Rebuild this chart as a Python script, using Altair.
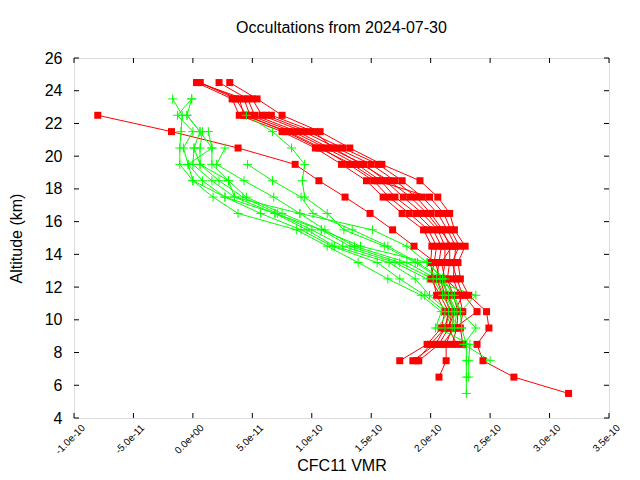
import altair as alt
import pandas as pd

W, H = 535, 360

# altitude levels (km)
RED_ALT = [24.5, 23.5, 22.5, 21.5, 20.5, 19.5, 18.5, 17.5, 16.5, 15.5,
           14.5, 13.5, 12.5, 11.5, 10.5, 9.5, 8.5, 7.5, 6.5, 5.5]
GREEN_ALT = [23.5, 22.5, 21.5, 20.5, 19.5, 18.5, 17.5, 16.5, 15.5, 14.5,
             13.5, 12.5, 11.5, 10.5, 9.5, 8.5, 7.5, 6.5, 5.5]

# CFC11 VMR in units of 1e-10
RED = {
    "r1": [0.03, 0.33, 0.39, 0.75, 1.03, 1.25, 1.46, 1.60, 1.76, 1.94, 2.01, 2.00, 2.02, 2.05, 2.12, 2.09, 1.97, 1.74, None, None],
    "r2": [0.06, 0.39, 0.43, 0.80, 1.08, 1.31, 1.52, 1.65, 1.82, 1.98, 2.05, 2.03, 2.00, 2.08, 2.15, 2.12, 2.04, 1.85, None, None],
    "r3": [0.04, 0.43, 0.48, 0.84, 1.12, 1.38, 1.58, 1.70, 1.88, 2.02, 2.09, 2.07, 2.05, 2.10, 2.18, 2.15, 2.07, 1.90, None, None],
    "r4": [0.22, 0.46, 0.52, 0.88, 1.15, 1.44, 1.62, 1.77, 1.93, 2.06, 2.12, 2.12, 2.10, 2.14, 2.20, 2.18, 2.13, 2.13, 2.07, None],
    "r5": [None, 0.50, 0.58, 0.93, 1.21, 1.50, 1.70, 1.88, 2.00, 2.10, 2.16, 2.16, 2.14, 2.19, 2.23, 2.22, 2.18, None, None, None],
    "r6": [None, None, 0.62, 0.97, 1.26, 1.56, 1.76, 1.93, 2.06, 2.14, 2.21, 2.20, 2.19, 2.24, 2.27, 2.25, 2.27, None, None, None],
    "r7": [0.31, 0.54, 0.75, 1.07, 1.32, 1.59, 1.91, 2.06, 2.16, 2.20, 2.29, 2.23, 2.25, 2.32, 2.47, 2.49, 2.39, 2.44, 2.70, 3.16],
    "r8": [None, None, -0.80, -0.18, 0.38, 0.86, 1.06, 1.28, 1.49, 1.68, 1.86, 2.04, 2.08, 2.12, 2.16, 2.12, 2.00, 1.88, None, None],
    "r9": [None, None, 0.66, 1.02, 1.18, 1.42, 1.65, 1.83, 1.97, 2.08, 2.18, 2.09, 2.12, 2.28, 2.39, 2.20, 2.10, None, None, None],
    "r10": [0.06, 0.36, 0.45, 0.78, 1.06, 1.34, 1.55, 1.99, 2.11, 2.17, 2.24, 2.18, 2.22, 2.27, 2.20, 2.15, 2.22, None, None, None],
}

GREEN = {
    "g1": [-0.17, -0.09, -0.10, -0.11, -0.11, 0.00, 0.17, 0.38, 0.87, 1.13, 1.39, 1.64, 1.92, 2.09, 2.04, None, None, None, None],
    "g2": [-0.01, -0.13, 0.00, -0.08, -0.04, 0.08, 0.27, 0.57, 0.91, 1.17, 1.55, 1.74, 1.95, 2.12, 2.26, 2.30, 2.30, 2.30, 2.30],
    "g3": [None, -0.05, 0.06, 0.01, 0.00, 0.16, 0.35, 0.69, 0.96, 1.19, 1.65, 1.87, 1.99, 2.15, 2.06, 2.33, 2.32, 2.32, None],
    "g4": [None, None, 0.08, 0.06, 0.06, 0.22, 0.42, 0.71, 1.00, 1.26, 1.70, 1.97, 2.38, 2.25, 2.38, 2.28, 2.50, None, None],
    "g5": [None, None, 0.13, 0.16, 0.16, 0.30, 0.45, 0.75, 1.08, 1.32, 1.74, 2.02, 2.10, 2.18, 2.12, None, None, None, None],
    "g6": [None, None, None, 0.27, 0.20, 0.43, 0.68, 0.90, 1.11, 1.36, 1.80, 2.05, 2.12, 2.20, None, None, None, None, None],
    "g7": [None, 0.45, 0.67, 0.83, 0.94, 0.92, 0.94, 1.13, 1.27, 1.61, 1.87, 2.08, 2.15, 2.22, 2.20, None, None, None, None],
    "g8": [None, None, None, None, 0.46, 0.67, 0.91, 1.01, 1.34, 1.64, 1.89, 2.10, 2.20, 2.25, 2.26, None, None, None, None],
    "g9": [-0.01, -0.05, 0.06, 0.16, -0.04, 0.00, 0.27, 0.69, 1.08, 1.41, 1.97, 2.12, 2.18, 2.25, None, None, None, None, None],
    "g10": [None, None, None, 0.01, 0.06, 0.30, 0.35, 0.90, 1.51, 1.80, 1.97, 2.10, 2.15, 2.20, 2.18, None, None, None, None],
}

XTICK_VALUES = [-1.0, -0.5, 0.0, 0.5, 1.0, 1.5, 2.0, 2.5, 3.0, 3.5]
XTICK_LABELS = ["-1.0e-10", "-5.0e-11", "0.0e+00", "5.0e-11", "1.0e-10",
                "1.5e-10", "2.0e-10", "2.5e-10", "3.0e-10", "3.5e-10"]
YTICK_VALUES = [4, 6, 8, 10, 12, 14, 16, 18, 20, 22, 24, 26]

FONT = "Liberation Sans"

rows = []
for group, alts, profiles in (("red", RED_ALT, RED), ("green", GREEN_ALT, GREEN)):
    for name, vals in profiles.items():
        for a, v in zip(alts, vals):
            if v is not None:
                rows.append({"group": group, "profile": name, "alt": a, "vmr": v})
df = pd.DataFrame(rows)
red_df = df[df.group == "red"]
green_df = df[df.group == "green"]

label_expr = " : ".join(
    f"datum.value == {v} ? '{l}'" for v, l in zip(XTICK_VALUES, XTICK_LABELS)
) + " : ''"

xscale = alt.Scale(domain=[-1.0, 3.5], nice=False, zero=False)
yscale = alt.Scale(domain=[4, 26], nice=False, zero=False)

x_enc = alt.X(
    "vmr:Q", scale=xscale,
    axis=alt.Axis(values=XTICK_VALUES, labelExpr=label_expr, ticks=False,
                  domain=False, grid=False, labelAngle=-45, labelAlign="right",
                  labelBaseline="middle", labelFontSize=10, labelPadding=8,
                  labelOffset=9,
                  labelFont=FONT, labelColor="black",
                  title="CFC11 VMR", titleFontSize=16, titleFont=FONT,
                  titleFontWeight="normal", titleColor="black",
                  titleX=W / 2, titleY=47, titleAlign="center",
                  titleBaseline="middle"),
)
y_enc = alt.Y(
    "alt:Q", scale=yscale,
    axis=alt.Axis(values=YTICK_VALUES, ticks=False, domain=False, grid=False,
                  labelFontSize=16, labelPadding=12, labelFont=FONT,
                  labelColor="black",
                  title="Altitude (km)", titleFontSize=16, titleFont=FONT,
                  titleFontWeight="normal", titleColor="black",
                  titleX=-58, titleY=H / 2, titleAngle=-90,
                  titleAlign="center", titleBaseline="middle"),
)

red_lines = alt.Chart(red_df).mark_line(color="#ff0000", strokeWidth=1).encode(
    x=x_enc, y=y_enc, detail="profile:N", order=alt.Order("alt:Q"))
green_lines = alt.Chart(green_df).mark_line(color="#00ff00", strokeWidth=1).encode(
    x=x_enc, y=y_enc, detail="profile:N", order=alt.Order("alt:Q"))
red_pts = alt.Chart(red_df).mark_point(
    shape="square", filled=True, size=49, color="#ff0000", opacity=1
).encode(x=x_enc, y=y_enc)
green_pts = alt.Chart(green_df).mark_point(
    shape="M-1,0L1,0M0,-1L0,1", filled=False, size=81, color="#00ff00",
    strokeWidth=1, opacity=1
).encode(x=x_enc, y=y_enc)

xt_df = pd.DataFrame({"vmr": XTICK_VALUES})
yt_df = pd.DataFrame({"alt": YTICK_VALUES})
TL = 5
xt_bottom = alt.Chart(xt_df).mark_rule(color="black", strokeWidth=1).encode(
    x=x_enc, y=alt.value(H), y2=alt.value(H - TL))
xt_top = alt.Chart(xt_df).mark_rule(color="black", strokeWidth=1).encode(
    x=x_enc, y=alt.value(0), y2=alt.value(TL))
yt_left = alt.Chart(yt_df).mark_rule(color="black", strokeWidth=1).encode(
    y=y_enc, x=alt.value(0), x2=alt.value(TL))
yt_right = alt.Chart(yt_df).mark_rule(color="black", strokeWidth=1).encode(
    y=y_enc, x=alt.value(W - TL), x2=alt.value(W))

chart = alt.layer(
    red_lines, green_lines, red_pts, green_pts,
    xt_bottom, xt_top, yt_left, yt_right,
).properties(
    width=W, height=H,
    title=alt.TitleParams("Occultations from 2024-07-30", fontSize=16, font=FONT,
                          fontWeight="normal", color="black", anchor="middle",
                          offset=14),
    autosize=alt.AutoSizeParams(type="none"),
    padding={"left": 66, "top": 50, "right": 23, "bottom": 54},
).configure_view(stroke="black", strokeWidth=1).configure(background="white")

chart.save("out.html", embed_options={"renderer": "svg", "actions": False})
